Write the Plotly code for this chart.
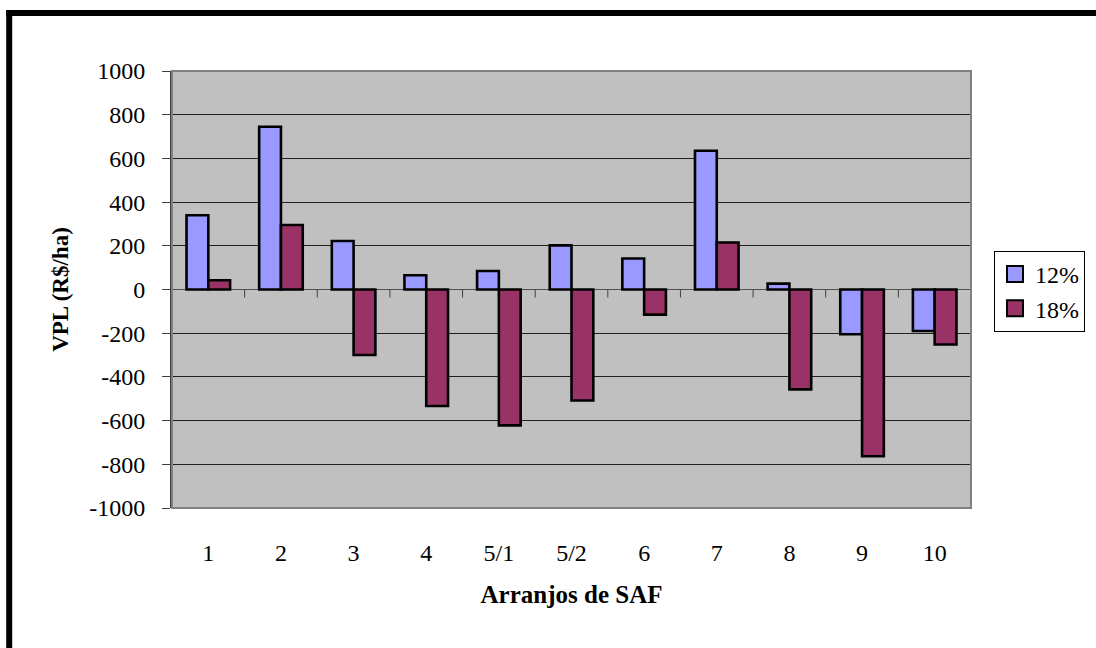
import plotly.graph_objects as go

# VPL (R$/ha) per SAF arrangement at two discount rates
arranjos = ["1", "2", "3", "4", "5/1", "5/2", "6", "7", "8", "9", "10"]
vpl_12 = [340, 745, 222, 65, 85, 202, 142, 635, 27, -205, -190]
vpl_18 = [42, 295, -300, -533, -622, -508, -115, 215, -457, -763, -252]
y_ticks = list(range(-1000, 1001, 200))

serif = "Liberation Serif"
c12 = "#9999FF"
c18 = "#993366"

fig = go.Figure()
fig.add_trace(go.Bar(x=arranjos, y=vpl_12, name="12%", showlegend=False,
                     marker=dict(color=c12, line=dict(color="black", width=2.6))))
fig.add_trace(go.Bar(x=arranjos, y=vpl_18, name="18%", showlegend=False,
                     marker=dict(color=c18, line=dict(color="black", width=2.6))))

# legend entries with square swatches
for name, col in (("12%", c12), ("18%", c18)):
    fig.add_trace(go.Scatter(x=[None], y=[None], mode="markers", name=name,
                             marker=dict(symbol="square", size=16, color=col,
                                         line=dict(color="black", width=2))))

shapes = []
# tick marks on the category axis line at y = 0, between categories
for k in range(len(arranjos) - 1):
    shapes.append(dict(type="line", xref="x", yref="y", x0=k + 0.5, x1=k + 0.5,
                       ysizemode="pixel", yanchor=0, y0=0, y1=-8,
                       line=dict(color="#404040", width=1)))
# plot area frame
shapes.append(dict(type="rect", xref="paper", yref="paper", x0=0, x1=1, y0=0, y1=1,
                   line=dict(color="#808080", width=2), fillcolor="rgba(0,0,0,0)"))
# heavy outer frame (top and left bands)
W, H, L, T, PW, PH = 1096, 648, 172, 71, 800, 437
def px(x):
    return (x - L) / PW
def py(y):
    return (T + PH - y) / PH
shapes.append(dict(type="rect", xref="paper", yref="paper", x0=px(6), x1=px(1100),
                   y0=py(16), y1=py(10), fillcolor="black", line=dict(width=0)))
shapes.append(dict(type="rect", xref="paper", yref="paper", x0=px(6), x1=px(12),
                   y0=py(652), y1=py(10), fillcolor="black", line=dict(width=0)))

fig.update_layout(
    width=W, height=H,
    margin=dict(l=L, r=W - L - PW, t=T, b=H - T - PH),
    paper_bgcolor="white", plot_bgcolor="#C0C0C0",
    barmode="group", bargap=0.4, bargroupgap=0,
    font=dict(family=serif, size=24, color="black"),
    shapes=shapes,
    legend=dict(x=px(994), y=py(251), xanchor="left", yanchor="top",
                bordercolor="black", borderwidth=1, bgcolor="white",
                font=dict(family=serif, size=24, color="black"), tracegroupgap=0),
    xaxis=dict(type="category", categoryorder="array", categoryarray=arranjos,
               showgrid=False, zeroline=False, ticks="", showline=False,
               ticklabelstandoff=28,
               tickfont=dict(family=serif, size=24, color="black"),
               title=dict(text="<b>Arranjos de SAF</b>", standoff=20,
                          font=dict(family=serif, size=25, color="black"))),
    yaxis=dict(range=[-1000, 1000], tickvals=y_ticks, ticktext=[str(v) for v in y_ticks],
               showgrid=True, gridcolor="#202020", gridwidth=1,
               zeroline=True, zerolinecolor="#505050", zerolinewidth=1,
               showline=True, linecolor="#404040", linewidth=2,
               ticks="outside", ticklen=8, tickcolor="#404040", tickwidth=1,
               ticklabelstandoff=12,
               tickfont=dict(family=serif, size=24, color="black"),
               title=dict(text="<b>VPL (R$/ha)</b>", standoff=14,
                          font=dict(family=serif, size=23, color="black"))),
)

fig.write_html("out.html")
